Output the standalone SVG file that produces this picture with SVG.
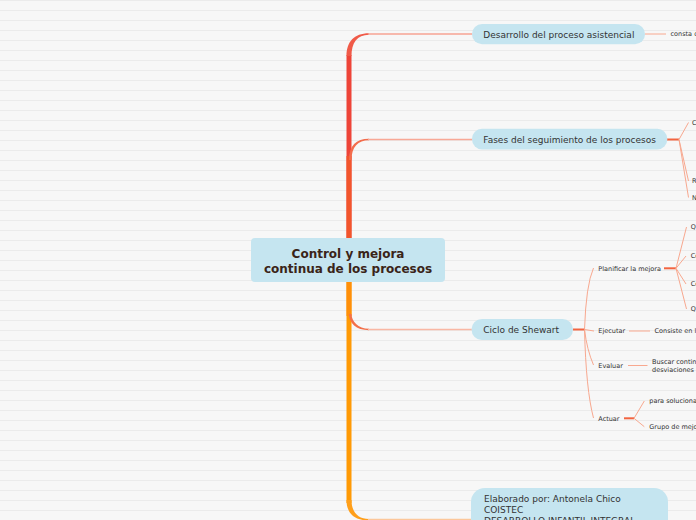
<svg xmlns="http://www.w3.org/2000/svg" width="696" height="520" viewBox="0 0 696 520">
<defs>
<pattern id="bg" x="0" y="0" width="696" height="10" patternUnits="userSpaceOnUse">
<rect width="696" height="10" fill="#f7f7f7"/>
<rect y="0" width="696" height="1" fill="#ebebeb"/>
</pattern>
</defs>
<style>
.pill{fill:#c5e5f0;}
.t9{font-family:"DejaVu Sans",Verdana,sans-serif;font-size:9px;fill:#333333;}
.t6{font-family:"DejaVu Sans",Verdana,sans-serif;font-size:6.5px;fill:#333333;}
.tc{font-family:"DejaVu Sans",Verdana,sans-serif;font-size:12px;font-weight:bold;fill:#3a2418;text-anchor:middle;}
.sub{fill:none;stroke:#f8a88f;stroke-width:1;}
.hub{fill:none;stroke:#f26440;stroke-width:2;}
</style>
<rect width="696" height="520" fill="url(#bg)"/>
<g id="connectors">
<!-- branch 1 -->
<rect x="346.5" y="55" width="5" height="184" fill="#ee4438"/>
<path d="M346.5,56 C346.5,42 354,33.3 369,33.3 L369,34.7 C357,34.7 351.5,43 351.5,56 Z" fill="#f05a48"/>
<line x1="368" y1="34" x2="472" y2="34" stroke="#f7a393" stroke-width="1.3"/>
<!-- branch 2 -->
<rect x="346.5" y="156" width="5" height="83" fill="#f2552c"/>
<path d="M349,160 C349,146 356,138.8 369,138.8 L369,140.2 C358,140.2 351.5,147 351.5,160 Z" fill="#f36c4c"/>
<line x1="368" y1="139.5" x2="472" y2="139.5" stroke="#f8a896" stroke-width="1.3"/>
<!-- branch 4 -->
<rect x="346.5" y="281" width="5" height="222" fill="#ff9a05"/>
<path d="M346.5,500 C346.5,513 354,520.5 369,520.5 L369,519 C358,519 351.5,512 351.5,500 Z" fill="#ff9f1a"/>
<line x1="368" y1="519.5" x2="472" y2="519.5" stroke="#fcc79a" stroke-width="1.3"/>
<!-- branch 3 -->
<rect x="346.5" y="281" width="5" height="35" fill="#ff8f0a"/>
<path d="M349,314 C349,323 356,330.2 369,330.2 L369,328.8 C358,328.8 351.5,321 351.5,314 Z" fill="#f3704a"/>
<line x1="368" y1="329.5" x2="472" y2="329.5" stroke="#f9b7a4" stroke-width="1.3"/>
<!-- sub of branch 1 -->
<line class="sub" x1="645" y1="34" x2="666" y2="34"/>
<!-- sub of branch 2 -->
<line class="hub" x1="667" y1="139.5" x2="679" y2="139.5"/>
<path class="sub" d="M679,139.5 L688.5,122.5 M679,139.5 L688.5,181 M679,139.5 L688.5,197.5"/>
<!-- sub of branch 3 -->
<line class="hub" x1="573" y1="329.5" x2="585" y2="329.5"/>
<path class="sub" d="M584.5,329.5 Q586,285 593.5,268 M584.5,329.5 L594,331 M584.5,329.5 Q587,350 593.5,365 M584.5,329.5 Q586,390 593.5,418"/>
<line class="hub" x1="664" y1="268.3" x2="676" y2="268.3"/>
<path class="sub" d="M676,268.3 L686.5,227 M676,268.3 L686,256 M676,268.3 L686,284 M676,268.3 L686.5,309"/>
<line class="sub" x1="629" y1="331" x2="650" y2="331"/>
<line class="sub" x1="628" y1="365.5" x2="647.5" y2="365.5"/>
<line class="hub" x1="624" y1="418.3" x2="634" y2="418.3"/>
<path class="sub" d="M634,418.3 L644.3,401 M634,418.3 L644.3,426.7"/>
</g>
<g id="central">
<rect x="251" y="238" width="194" height="44" rx="4" class="pill"/>
<text class="tc" x="348" y="257.5">Control y mejora</text>
<text class="tc" x="348" y="273">continua de los procesos</text>
</g>
<g id="n-desarrollo">
<rect x="472" y="24" width="173" height="20.3" rx="10" class="pill"/>
<text class="t9" x="483.3" y="37.5">Desarrollo del proceso asistencial</text>
</g>
<g id="n-consta">
<text class="t6" x="670.5" y="36.3">consta d</text>
</g>
<g id="n-fases">
<rect x="472" y="128.8" width="195.3" height="20.6" rx="10" class="pill"/>
<text class="t9" x="483.3" y="142.8">Fases del seguimiento de los procesos</text>
</g>
<g id="n-fases-c"><text class="t6" x="692" y="124.8">C</text></g>
<g id="n-fases-r"><text class="t6" x="692" y="183.3">R</text></g>
<g id="n-fases-n"><text class="t6" x="692" y="199.8">N</text></g>
<g id="n-ciclo">
<rect x="471.5" y="319" width="101.5" height="21" rx="10.5" class="pill"/>
<text class="t9" x="483.3" y="332.8">Ciclo de Shewart</text>
</g>
<g id="n-planificar"><text class="t6" x="598.3" y="270.6">Planificar la mejora</text></g>
<g id="n-q1"><text class="t6" x="690.7" y="229.3">Q</text></g>
<g id="n-co1"><text class="t6" x="690.7" y="258.3">Co</text></g>
<g id="n-co2"><text class="t6" x="690.7" y="286.3">Co</text></g>
<g id="n-q2"><text class="t6" x="690.7" y="311.3">Q</text></g>
<g id="n-ejecutar"><text class="t6" x="598.3" y="333.4">Ejecutar</text></g>
<g id="n-consiste"><text class="t6" x="654.5" y="333">Consiste en l</text></g>
<g id="n-evaluar"><text class="t6" x="598.3" y="367.5">Evaluar</text></g>
<g id="n-buscar">
<text class="t6" x="652" y="364.3">Buscar contin</text>
<text class="t6" x="652" y="371.8">desviaciones</text>
</g>
<g id="n-actuar"><text class="t6" x="598.3" y="421">Actuar</text></g>
<g id="n-para"><text class="t6" x="649.3" y="403">para soluciona</text></g>
<g id="n-grupo"><text class="t6" x="649.3" y="428.6">Grupo de mejo</text></g>
<g id="n-elaborado">
<rect x="471" y="488" width="197" height="60" rx="14" class="pill"/>
<text class="t9" x="484" y="502.3">Elaborado por: Antonela Chico</text>
<text class="t9" x="484" y="513.3">COISTEC</text>
<text class="t9" x="484" y="524.3">DESARROLLO INFANTIL INTEGRAL</text>
</g>
</svg>
